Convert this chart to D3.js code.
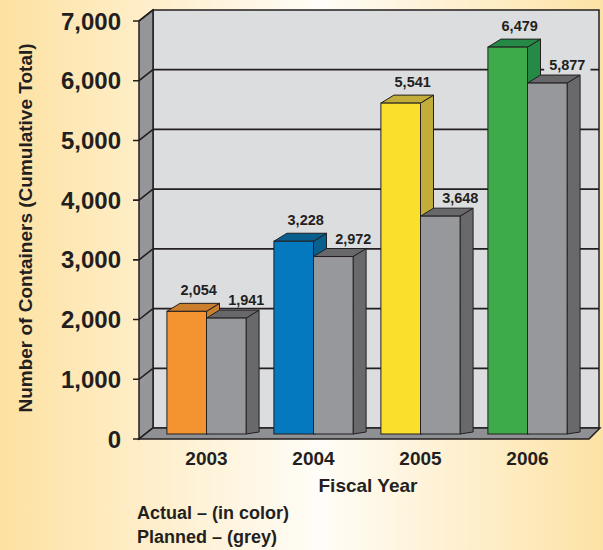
<!DOCTYPE html>
<meta charset="utf-8">
<script src="https://d3js.org/d3.v7.min.js"></script>
<style>
    body { margin: 0; }
    text { font-family: "Liberation Sans", Arial, Helvetica, sans-serif; font-weight: bold; fill: #231f20; }
</style>
<div id="chart"></div>
<script>
    // data
    var years = ["2003", "2004", "2005", "2006"];
    var actual = [2054, 3228, 5541, 6479];
    var planned = [1941, 2972, 3648, 5877];
    var actualColors = ["#f39431", "#0479bf", "#fbe02b", "#3eab4b"];
    var actualDark = ["#c97f2e", "#0b5f8f", "#c2ac3a", "#248a45"];
    var yTicks = [0, 1000, 2000, 3000, 4000, 5000, 6000, 7000];

    var width = 603, height = 550;
    const ink = "#231f20";

    var svg = d3.select("#chart").append("svg")
        .attr("width", width)
        .attr("height", height);

    // background gradient
    var grad = svg.append("defs").append("linearGradient")
        .attr("id", "bg").attr("x1", "0%").attr("x2", "100%").attr("y1", "0%").attr("y2", "0%");
    grad.append("stop").attr("offset", "0%").attr("stop-color", "#fde1a1");
    grad.append("stop").attr("offset", "53%").attr("stop-color", "#fffdf8");
    grad.append("stop").attr("offset", "100%").attr("stop-color", "#fde2a5");
    svg.append("rect").attr("width", width).attr("height", height).attr("fill", "url(#bg)");

    // 3d box geometry
    var front = { left: 139, bottom: 439 };
    var depth = { dx: 14, dy: -11 };
    var backLeft = front.left + depth.dx, backRight = 599;

    // y scales: front plane (axis), back wall, bar plane
    var yFront = d3.scaleLinear().domain([0, 7000]).range([439, 21]);
    var yBack = d3.scaleLinear().domain([0, 7000]).range([428, 10]);
    var yBar = d3.scaleLinear().domain([0, 7000]).range([434, 16]);

    var x = d3.scaleBand().domain(years).range([153, 581]).paddingInner(0.26).paddingOuter(0.13);
    var bw = x.bandwidth() / 2;
    var bd = { dx: 13, dy: -8 };

    // back wall
    svg.append("rect")
        .attr("x", backLeft).attr("y", yBack(7000))
        .attr("width", backRight - backLeft).attr("height", yBack(0) - yBack(7000))
        .attr("fill", "#dcdddf").attr("stroke", ink).attr("stroke-width", 1.5);

    // side wall
    svg.append("path")
        .attr("d", d3.line()([
            [front.left, yFront(7000)], [backLeft, yBack(7000)],
            [backLeft, yBack(0)], [front.left, yFront(0)]
        ]) + "Z")
        .attr("fill", "#95969a").attr("stroke", ink).attr("stroke-width", 1.5);

    // gridlines + ticks
    yTicks.forEach(function (t) {
        if (t > 0 && t < 7000) {
            svg.append("line")
                .attr("x1", backLeft).attr("x2", backRight)
                .attr("y1", yBack(t)).attr("y2", yBack(t))
                .attr("stroke", ink).attr("stroke-width", 1.8);
        }
        svg.append("path")
            .attr("d", d3.line()([[front.left - 6, yFront(t)], [front.left, yFront(t)], [backLeft, yBack(t)]]))
            .attr("fill", "none").attr("stroke", ink).attr("stroke-width", 1.6);
        svg.append("text")
            .attr("x", 121).attr("y", yFront(t)).attr("dy", "0.36em")
            .attr("text-anchor", "end")
            .style("font-size", "24px")
            .text(d3.format(",")(t));
    });

    // floor
    svg.append("path")
        .attr("d", d3.line()([
            [front.left, yFront(0)], [backLeft, yBack(0)],
            [backRight + 1, yBack(0)], [backRight - 10, yFront(0)]
        ]) + "Z")
        .attr("fill", "#8f9093").attr("stroke", ink).attr("stroke-width", 1.5);

    // bars
    function drawBar(x0, v, cFront, cDark, cTop) {
        var x1 = x0 + bw, yt = yBar(v), y0 = yBar(0);
        var g = svg.append("g");
        g.append("path")
            .attr("d", d3.line()([[x1, yt], [x1 + bd.dx, yt + bd.dy], [x1 + bd.dx, y0 - 2], [x1, y0]]) + "Z")
            .attr("fill", cDark).attr("stroke", ink).attr("stroke-width", 1);
        g.append("path")
            .attr("d", d3.line()([[x0, yt], [x0 + bd.dx, yt + bd.dy], [x1 + bd.dx, yt + bd.dy], [x1, yt]]) + "Z")
            .attr("fill", cTop).attr("stroke", ink).attr("stroke-width", 1);
        g.append("rect")
            .attr("x", x0).attr("y", yt).attr("width", bw).attr("height", y0 - yt)
            .attr("fill", cFront).attr("stroke", ink).attr("stroke-width", 1);
    }

    years.forEach(function (yr, i) {
        drawBar(x(yr), actual[i], actualColors[i], actualDark[i], actualDark[i]);
        drawBar(x(yr) + bw, planned[i], "#97989b", "#69696c", "#68686b");
    });

    // value labels
    function valueLabel(cx, v, lift) {
        var ty = yBar(v) + bd.dy - lift;
        var g = svg.append("g");
        var bg = g.append("rect").attr("fill", "#dcdddf");
        var t = g.append("text")
            .attr("x", cx).attr("y", ty)
            .attr("text-anchor", "middle")
            .style("font-size", "14.5px")
            .text(d3.format(",")(v));
        var b = t.node().getBBox();
        bg.attr("x", b.x - 5).attr("y", b.y + 2).attr("width", b.width + 10).attr("height", b.height - 3);
    }
    years.forEach(function (yr, i) {
        valueLabel(x(yr) + bw / 2 + 12, actual[i], 8);
        valueLabel(x(yr) + bw * 1.5 + 20, planned[i], 5);
    });

    // year labels
    years.forEach(function (yr) {
        svg.append("text")
            .attr("x", x(yr) + bw).attr("y", 465)
            .attr("text-anchor", "middle")
            .style("font-size", "19px")
            .text(yr);
    });

    svg.append("text")
        .attr("x", 368).attr("y", 492)
        .attr("text-anchor", "middle")
        .style("font-size", "19px")
        .text("Fiscal Year");

    svg.append("text")
        .attr("transform", "translate(32,228) rotate(-90)")
        .attr("text-anchor", "middle")
        .style("font-size", "19px")
        .text("Number of Containers (Cumulative Total)");

    svg.append("text")
        .attr("x", 137).attr("y", 519)
        .style("font-size", "18px")
        .text("Actual \u2013 (in color)");
    svg.append("text")
        .attr("x", 137).attr("y", 543)
        .style("font-size", "18px")
        .text("Planned \u2013 (grey)");
</script>
